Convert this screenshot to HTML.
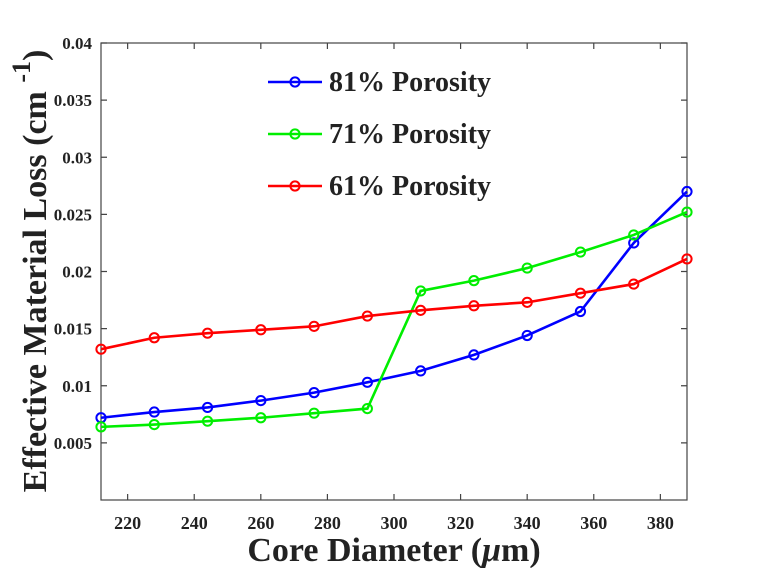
<!DOCTYPE html>
<html><head><meta charset="utf-8"><style>
html,body{margin:0;padding:0;background:#fff;}
svg{display:block;font-family:"Liberation Serif",serif;font-weight:bold;}
</style></head><body>
<svg id="chart" width="757" height="568" viewBox="0 0 757 568" xmlns="http://www.w3.org/2000/svg">
<g id="grid"></g>
<g id="series"></g>
<text x="394" y="561" font-size="34" text-anchor="middle" fill="#222">Core Diameter (<tspan font-style="italic">μ</tspan>m)</text>
<text transform="translate(46,271) rotate(-90)" font-size="34" text-anchor="middle" fill="#222">Effective Material Loss (cm <tspan dy="-16" font-size="26">-1</tspan><tspan dy="16">)</tspan></text>
</svg>
<script>
const xValues=[212,228,244,260,276,292,308,324,340,356,372,388];
const blueValues=[0.0072,0.0077,0.0081,0.0087,0.0094,0.0103,0.0113,0.0127,0.0144,0.0165,0.0225,0.0270];
const greenValues=[0.0064,0.0066,0.0069,0.0072,0.0076,0.0080,0.0183,0.0192,0.0203,0.0217,0.0232,0.0252];
const redValues=[0.0132,0.0142,0.0146,0.0149,0.0152,0.0161,0.0166,0.0170,0.0173,0.0181,0.0189,0.0211];
const xTicks=[220,240,260,280,300,320,340,360,380];
const yTicks=[0.005,0.01,0.015,0.02,0.025,0.03,0.035,0.04];
const yTickLabels=["0.005","0.01","0.015","0.02","0.025","0.03","0.035","0.04"];
const seriesNames=["81% Porosity","71% Porosity","61% Porosity"];

const L=101,R=687,T=43,B=500,X0=212,X1=388,Y0=0,Y1=0.04;
const sx=v=>L+(v-X0)/(X1-X0)*(R-L);
const sy=v=>B-(v-Y0)/(Y1-Y0)*(B-T);
const NS="http://www.w3.org/2000/svg";
function mk(tag,attrs,parent){const e=document.createElementNS(NS,tag);for(const k in attrs)e.setAttribute(k,attrs[k]);parent.appendChild(e);return e;}
const grid=document.getElementById('grid'),ser=document.getElementById('series');
const frame=mk('rect',{x:L,y:T,width:R-L,height:B-T,fill:'none',stroke:'#444','stroke-width':1.2},grid);


xTicks.forEach(t=>{
  const x=sx(t);
  const tk=mk('path',{d:`M${x},${B}V${B-6}M${x},${T}V${T+6}`,stroke:'#444','stroke-width':1.2},grid);
  
  
  const lb=mk('text',{x:x,y:B+29,'font-size':18,'text-anchor':'middle',fill:'#222'},grid);
  lb.textContent=t;
  
  
});
yTicks.forEach((t,i)=>{
  const y=sy(t);
  const tk=mk('path',{d:`M${L},${y}H${L+6}M${R},${y}H${R-6}`,stroke:'#444','stroke-width':1.2},grid);
  
  
  const lb=mk('text',{x:L-9,y:y+6,'font-size':17,'text-anchor':'end',fill:'#222'},grid);
  lb.textContent=yTickLabels[i];
  
  
});
const all=[[blueValues,'#0000ff'],[greenValues,'#00ee00'],[redValues,'#ff0000']];
all.forEach(([vals,col],si)=>{
  const g=mk('g',{},ser);
  
  
  mk('polyline',{points:vals.map((v,i)=>sx(xValues[i])+','+sy(v)).join(' '),fill:'none',stroke:col,'stroke-width':2.6},g);
  vals.forEach((v,i)=>{
    const c=mk('circle',{cx:sx(xValues[i]),cy:sy(v),r:4.6,fill:'none',stroke:col,'stroke-width':2},g);
    
    
  });
  const ly=82+si*52;
  const lg=mk('g',{},ser);
  
  
  mk('line',{x1:268,y1:ly,x2:322,y2:ly,stroke:col,'stroke-width':2.6},lg);
  mk('circle',{cx:295,cy:ly,r:4.6,fill:'none',stroke:col,'stroke-width':2},lg);
  const t=mk('text',{x:329,y:ly+9,'font-size':28,fill:'#222'},lg);
  t.textContent=seriesNames[si];
});
</script>
</body></html>
